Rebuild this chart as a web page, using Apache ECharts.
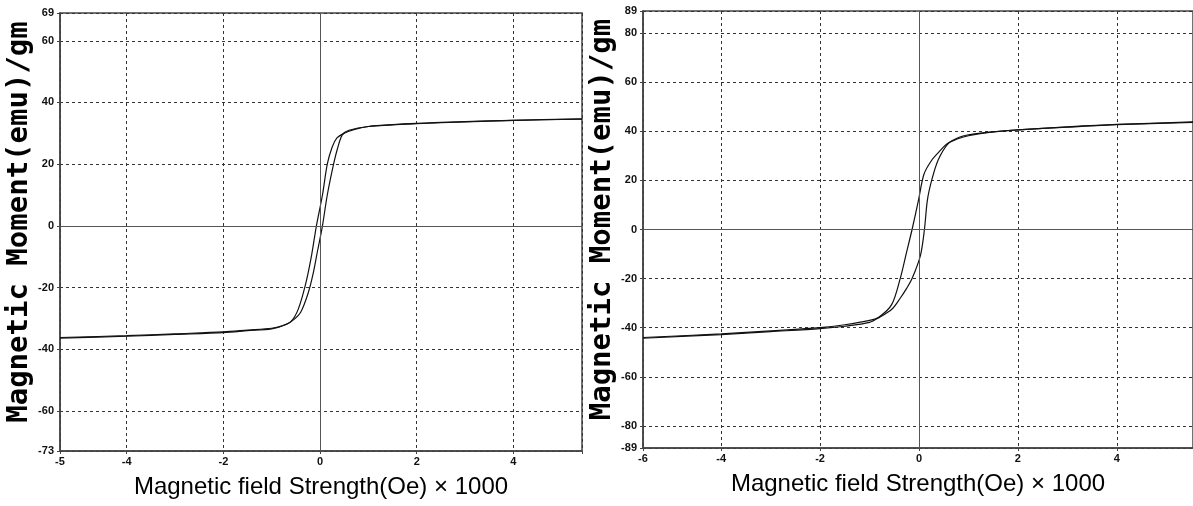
<!DOCTYPE html>
<html>
<head>
<meta charset="utf-8">
<script src="https://cdn.jsdelivr.net/npm/echarts@6/dist/echarts.min.js"></script>
<style>
html,body{margin:0;padding:0;background:#fff;}
#chart{width:1193px;height:506px;}
</style>
</head>
<body>
<div id="chart"></div>
<script>
// ---- Left loop (sample 1) ----
var leftDescX = [-5.38, -4, -3, -2, -1.5, -1, -0.8, -0.6, -0.45, -0.3, -0.18, -0.075, 0.05, 0.15, 0.25, 0.35, 0.5, 0.7, 1, 1.5, 2, 3, 4, 5.42];
var leftDescY = [-36.2, -35.6, -35.0, -34.4, -33.8, -33.2, -32.5, -31, -27, -19, -10, 0, 10, 20, 25.5, 28.5, 30.0, 31.2, 32.2, 32.8, 33.2, 33.8, 34.2, 34.7];
var leftAscX = [-5.38, -4, -3, -2, -1.5, -1, -0.7, -0.55, -0.4, -0.25, -0.15, -0.05, 0.05, 0.15, 0.28, 0.36, 0.46, 0.6, 1, 2, 3, 4, 5.42];
var leftAscY = [-36.4, -35.8, -35.2, -34.6, -34.0, -33.4, -32, -30.5, -28, -22, -16, -8, 0, 10, 20, 25, 29.5, 31, 32.2, 33.1, 33.7, 34.2, 34.6];

// ---- Right loop (sample 2) ----
var rightDescX = [-5.58, -4, -3, -2, -1.5, -1, -0.8, -0.55, -0.38, -0.26, -0.14, -0.01, 0.1, 0.25, 0.4, 0.6, 1, 1.5, 2, 3, 4, 5.54];
var rightDescY = [-44, -42.5, -41.3, -40, -38.8, -37, -35.5, -30.5, -20, -10, 0, 12, 22.5, 28, 31.5, 35.3, 38.2, 39.8, 40.6, 41.8, 42.8, 43.8];
var rightAscX = [-5.58, -4, -3, -2, -1.5, -1, -0.8, -0.55, -0.38, -0.25, -0.14, 0.03, 0.11, 0.17, 0.26, 0.39, 0.59, 0.8, 1, 1.5, 2, 3, 4, 5.54];
var rightAscY = [-44.3, -42.8, -41.6, -40.4, -39.4, -37.8, -35.8, -32.5, -28, -24, -20, -10.5, 0, 12, 20.3, 28.4, 35, 37.5, 38.6, 39.8, 40.6, 41.7, 42.7, 43.6];

// ---- axis ranges / texts ----
var leftXRange = [-5.38, 5.42];
var leftYRange = [-73, 69];
var rightXRange = [-5.58, 5.54];
var rightYRange = [-89, 89];
var yAxisTitle = 'Magnetic Moment(emu)/gm';
var xAxisTitle = 'Magnetic field Strength(Oe) × 1000';

function pairs(xs, ys) { return xs.map(function (x, i) { return [x, ys[i]]; }); }

var gridLine = { show: true, lineStyle: { color: '#333', type: [3, 3], width: 1 } };
var axisLineStyle = { show: true, onZero: false, lineStyle: { color: '#444', width: 1.5 } };
var tickLabel = { color: '#111', fontFamily: 'Liberation Sans', fontWeight: 'bold', fontSize: 11 };

function xAxis(idx, range) {
  return {
    type: 'value', gridIndex: idx, min: range[0], max: range[1], splitNumber: 5,
    axisLine: axisLineStyle,
    axisTick: { show: true, length: 3, lineStyle: { color: '#444' } },
    axisLabel: Object.assign({ margin: 5, formatter: function (v) {
      if (Math.abs(v - range[1]) < 1e-6) return '';
      return String(Math.round(v));
    } }, tickLabel),
    splitLine: gridLine,
    name: xAxisTitle, nameLocation: 'middle', nameGap: 24,
    nameTextStyle: { fontFamily: 'Liberation Sans', fontSize: 24, color: '#000' }
  };
}
function yAxis(idx, range, split, gap) {
  return {
    type: 'value', gridIndex: idx, min: range[0], max: range[1], splitNumber: split,
    axisLine: axisLineStyle,
    axisTick: { show: true, length: 3, lineStyle: { color: '#444' } },
    axisLabel: Object.assign({ margin: 6, formatter: function (v) { return String(Math.round(v)); } }, tickLabel),
    splitLine: gridLine,
    name: yAxisTitle, nameLocation: 'middle', nameGap: gap, nameRotate: 90,
    nameTextStyle: { fontFamily: 'DejaVu Sans Mono', fontWeight: 'bold', fontSize: 29, color: '#000', padding: [0, 0, 0, 20] }
  };
}

var zeroLines = {
  silent: true, symbol: 'none', animation: false,
  label: { show: false },
  lineStyle: { type: 'solid', color: '#555', width: 1 },
  data: [{ xAxis: 0 }, { yAxis: 0 }]
};
var curveStyle = { color: '#111', width: 1.2 };
function curve(idx, data, withZero) {
  var s = {
    type: 'line', xAxisIndex: idx, yAxisIndex: idx, data: data,
    showSymbol: false, smooth: 0.3, lineStyle: curveStyle, itemStyle: { color: '#111' },
    animation: false, silent: true
  };
  if (withZero) s.markLine = zeroLines;
  return s;
}

var chart = echarts.init(document.getElementById('chart'), null, { renderer: 'canvas' });
chart.setOption({
  backgroundColor: '#fff',
  animation: false,
  grid: [
    { left: 60, top: 13, right: 611, bottom: 55, show: true, borderColor: '#444', borderWidth: 1.5, containLabel: false, outerBoundsMode: 'none' },
    { left: 643, top: 11, right: 0, bottom: 58, show: true, borderColor: '#444', borderWidth: 1.5, containLabel: false, outerBoundsMode: 'none' }
  ],
  xAxis: [xAxis(0, leftXRange), xAxis(1, rightXRange)],
  yAxis: [yAxis(0, leftYRange, 7, 26), yAxis(1, rightYRange, 8, 24)],
  series: [
    curve(0, pairs(leftDescX, leftDescY), true),
    curve(0, pairs(leftAscX, leftAscY), false),
    curve(1, pairs(rightDescX, rightDescY), true),
    curve(1, pairs(rightAscX, rightAscY), false)
  ]
});
</script>
</body>
</html>
